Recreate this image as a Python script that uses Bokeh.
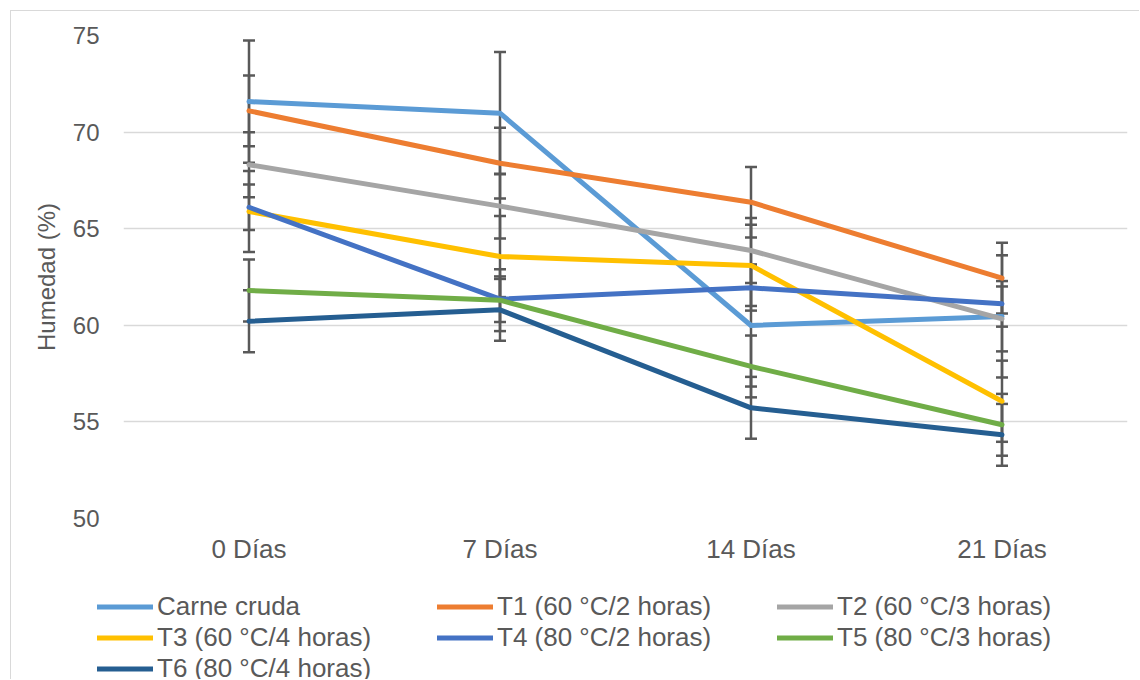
from bokeh.plotting import figure
from bokeh.models import Range1d, FactorRange, FixedTicker, Legend, LegendItem, ColumnDataSource
from bokeh.embed import file_html
from bokeh.resources import INLINE

days = ["0 Días", "7 Días", "14 Días", "21 Días"]
series_names = ["Carne cruda", "T1 (60 °C/2 horas)", "T2 (60 °C/3 horas)", "T3 (60 °C/4 horas)",
                "T4 (80 °C/2 horas)", "T5 (80 °C/3 horas)", "T6 (80 °C/4 horas)"]
carne = [71.58, 70.98, 59.99, 60.46]
t1 = [71.10, 68.39, 66.37, 62.44]
t2 = [68.31, 66.17, 63.87, 60.33]
t3 = [65.89, 63.56, 63.10, 56.07]
t4 = [66.11, 61.35, 61.94, 61.11]
t5 = [61.80, 61.30, 57.87, 54.85]
t6 = [60.21, 60.80, 55.73, 54.33]
errors = [3.16, 1.83, 1.68, 2.10, 1.18, 1.60, 1.60]
colors = ["#5B9BD5", "#ED7D31", "#A5A5A5", "#FFC000", "#4472C4", "#70AD47", "#255E91"]
values = [carne, t1, t2, t3, t4, t5, t6]

FONT = "Liberation Sans"
TXT = "#595959"

p = figure(width=1129, height=575, x_range=FactorRange(*days), y_range=Range1d(50, 75),
           output_backend="svg", toolbar_location=None,
           min_border_left=112, min_border_right=13, min_border_top=24, min_border_bottom=68)
p.styles = {"border-left": "1px solid #D9D9D9", "border-top": "1px solid #D9D9D9",
            "margin-left": "10px", "margin-top": "10px"}
p.outline_line_color = None
p.background_fill_color = "white"
p.border_fill_color = "white"

p.yaxis.ticker = FixedTicker(ticks=[50, 55, 60, 65, 70, 75])
p.yaxis.axis_line_color = None
p.yaxis.major_tick_line_color = None
p.yaxis.minor_tick_line_color = None
p.yaxis.major_label_text_font = FONT
p.yaxis.major_label_text_font_size = "24px"
p.yaxis.major_label_text_color = TXT
p.yaxis.major_label_standoff = 18
p.yaxis.axis_label = "Humedad (%)"
p.yaxis.axis_label_text_font = FONT
p.yaxis.axis_label_text_font_size = "24px"
p.yaxis.axis_label_text_font_style = "normal"
p.yaxis.axis_label_text_color = TXT
p.yaxis.axis_label_standoff = 10

p.xaxis.axis_line_color = None
p.xaxis.major_tick_line_color = None
p.xaxis.minor_tick_line_color = None
p.xaxis.major_label_text_font = FONT
p.xaxis.major_label_text_font_size = "26px"
p.xaxis.major_label_text_color = TXT
p.xaxis.major_label_standoff = 9

p.xgrid.grid_line_color = None
p.ygrid.grid_line_color = "#D9D9D9"
p.ygrid.grid_line_width = 1.5

# error bars
for vals, err in zip(values, errors):
    src = ColumnDataSource(dict(x=days, lo=[v - err for v in vals], hi=[v + err for v in vals]))
    p.segment(x0="x", y0="lo", x1="x", y1="hi", source=src, line_color="#595959", line_width=2.5)
    p.scatter(x="x", y="lo", source=src, marker="dash", size=12, line_color="#595959", line_width=2.5)
    p.scatter(x="x", y="hi", source=src, marker="dash", size=12, line_color="#595959", line_width=2.5)

for name, vals, col in zip(series_names, values, colors):
    p.line(days, vals, line_color=col, line_width=5, line_cap="round", line_join="round")

# legend strip (separate root, series drawn off-range so only the legend shows)
lg = figure(width=1129, height=94, x_range=FactorRange(*days), y_range=Range1d(0, 1),
            output_backend="svg", toolbar_location=None,
            min_border_left=0, min_border_right=0, min_border_top=0, min_border_bottom=0)
lg.styles = {"border-left": "1px solid #D9D9D9", "margin-left": "10px"}
lg.axis.visible = False
lg.grid.grid_line_color = None
lg.outline_line_color = None
items = []
for name, vals, col in zip(series_names, values, colors):
    r = lg.line(days, vals, line_color=col, line_width=5, line_cap="round")
    items.append(LegendItem(label=name, renderers=[r]))

legend = Legend(items=items, orientation="horizontal", ncols=3, location=(86, -5),
                label_text_font=FONT, label_text_font_size="26px", label_text_color=TXT,
                glyph_width=56, glyph_height=31, label_height=31, label_width=280,
                label_standoff=4, spacing=0, padding=0, margin=0,
                border_line_color=None, background_fill_alpha=0)
lg.add_layout(legend, "center")

open("out.html", "w").write(file_html([p, lg], INLINE))
